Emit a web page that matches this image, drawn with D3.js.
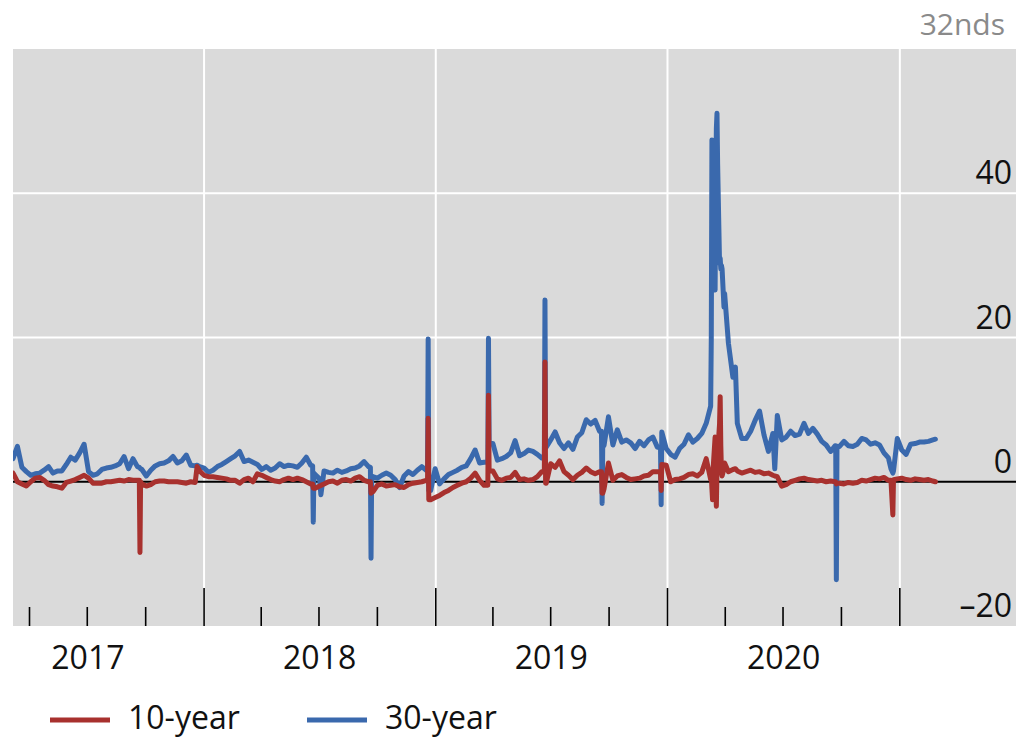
<!DOCTYPE html>
<html>
<head>
<meta charset="utf-8">
<script src="https://cdn.jsdelivr.net/npm/d3@7"></script>
<style>
  body { margin: 0; background: #fff; }
  svg { display: block; font-family: "Open Sans", "Noto Sans", sans-serif; }
</style>
</head>
<body>
<div id="chart"></div>
<script>
// observation dates (weekly, plus extra days around the spikes)
const dates = [
  // 2017
  "2017-03-06","2017-03-13","2017-03-20","2017-03-27","2017-04-03","2017-04-10","2017-04-17","2017-04-24","2017-05-01","2017-05-08",
  "2017-05-15","2017-05-22","2017-05-29","2017-06-05","2017-06-12","2017-06-19","2017-06-26","2017-07-03","2017-07-10","2017-07-17",
  "2017-07-24","2017-07-31","2017-08-07","2017-08-14","2017-08-21","2017-08-28","2017-09-04","2017-09-11","2017-09-18","2017-09-21",
  "2017-09-22","2017-09-23","2017-09-25","2017-10-02","2017-10-09","2017-10-16","2017-10-23","2017-10-30","2017-11-06","2017-11-13",
  "2017-11-20","2017-11-27","2017-12-04","2017-12-11","2017-12-18","2017-12-21","2017-12-25",
  // 2018
  "2018-01-01","2018-01-08","2018-01-15","2018-01-22","2018-01-29","2018-02-05","2018-02-12","2018-02-19","2018-02-26","2018-03-05",
  "2018-03-12","2018-03-19","2018-03-26","2018-04-02","2018-04-09","2018-04-16","2018-04-23","2018-04-30","2018-05-07","2018-05-14",
  "2018-05-21","2018-05-28","2018-06-04","2018-06-11","2018-06-18","2018-06-21","2018-06-22","2018-06-23","2018-06-25","2018-07-02",
  "2018-07-04","2018-07-09","2018-07-16","2018-07-23","2018-07-30","2018-08-06","2018-08-13","2018-08-20","2018-08-27","2018-09-03",
  "2018-09-10","2018-09-17","2018-09-20","2018-09-21","2018-09-22","2018-09-24","2018-10-01","2018-10-08","2018-10-15","2018-10-22",
  "2018-10-29","2018-11-05","2018-11-12","2018-11-19","2018-11-26","2018-12-03","2018-12-10","2018-12-17","2018-12-19","2018-12-20",
  "2018-12-21","2018-12-24","2018-12-31",
  // 2019
  "2019-01-07","2019-01-14","2019-01-21","2019-01-28","2019-02-04","2019-02-11","2019-02-18","2019-02-25","2019-03-04","2019-03-11",
  "2019-03-18","2019-03-24","2019-03-25","2019-03-26","2019-04-01","2019-04-08","2019-04-15","2019-04-22","2019-04-29","2019-05-06",
  "2019-05-13","2019-05-20","2019-05-27","2019-06-03","2019-06-10","2019-06-17","2019-06-21","2019-06-22","2019-06-23","2019-06-24",
  "2019-07-01","2019-07-08","2019-07-15","2019-07-22","2019-07-29","2019-08-05","2019-08-12","2019-08-19","2019-08-26","2019-09-02",
  "2019-09-09","2019-09-16","2019-09-19","2019-09-20","2019-09-21","2019-09-23","2019-09-30","2019-10-07","2019-10-14","2019-10-21",
  "2019-10-28","2019-11-04","2019-11-11","2019-11-18","2019-11-25","2019-12-02","2019-12-09","2019-12-16","2019-12-21","2019-12-22",
  "2019-12-23","2019-12-30",
  // 2020
  "2020-01-06","2020-01-13","2020-01-20","2020-01-27","2020-02-03","2020-02-10","2020-02-17","2020-02-24","2020-03-02","2020-03-09",
  "2020-03-10","2020-03-11","2020-03-12","2020-03-13","2020-03-16","2020-03-17","2020-03-18","2020-03-19","2020-03-20","2020-03-23",
  "2020-03-24","2020-03-25","2020-03-26","2020-03-27","2020-03-30","2020-03-31","2020-04-06","2020-04-13","2020-04-17","2020-04-20",
  "2020-04-27","2020-05-04","2020-05-11","2020-05-18","2020-05-25","2020-06-01","2020-06-08","2020-06-15","2020-06-18","2020-06-22",
  "2020-06-29","2020-07-06","2020-07-13","2020-07-20","2020-07-27","2020-08-03","2020-08-10","2020-08-17","2020-08-24","2020-08-31",
  "2020-09-07","2020-09-14","2020-09-21","2020-09-22","2020-09-23","2020-09-24","2020-09-28","2020-10-05","2020-10-12","2020-10-19",
  "2020-10-26","2020-11-02","2020-11-09","2020-11-16","2020-11-23","2020-11-30","2020-12-07","2020-12-14","2020-12-18","2020-12-21",
  "2020-12-22","2020-12-28",
  // 2021
  "2021-01-04","2021-01-11","2021-01-18","2021-01-25","2021-02-01","2021-02-08","2021-02-15","2021-02-22","2021-02-26"
];

// 10-year series, 32nds
const tenYear = [
  1.2, 0.0, -0.3, -0.6, 0.0, 0.5, 0.6, 0.2, -0.4, -0.6,
  -0.7, -0.9, -0.1, 0.1, 0.3, 0.6, 0.9, 0.5, -0.2, -0.2,
  -0.2, 0.0, 0.0, 0.1, 0.2, 0.1, 0.3, 0.2, 0.2, 0.2,
  -9.8, 0.0, -0.3, -0.6, -0.4, 0.0, 0.1, 0.1, 0.0, 0.0,
  0.0, -0.1, -0.2, 0.0, -0.1, 2.1, 1.5,

  0.9, 0.7, 0.7, 0.6, 0.5, 0.4, 0.2, 0.2, -0.2, 0.3,
  0.5, 0.0, 1.1, 0.9, 0.6, 0.3, 0.1, 0.0, 0.3, 0.5,
  0.3, 0.5, 0.3, 0.0, -0.3, -0.3, -0.9, -0.9, -0.9, -0.6,
  -0.5, -0.3, 0.0, 0.1, -0.2, 0.2, 0.3, 0.1, 0.5, 0.7,
  0.2, 0.0, 0.0, -1.6, -1.4, -1.4, -0.5, -0.3, -0.6, -0.5,
  -0.4, -0.7, -0.8, -0.4, -0.2, -0.1, 0.0, 0.2, 0.2, 8.8,
  -2.5, -2.5, -2.2,

  -1.9, -1.5, -1.2, -0.8, -0.5, -0.2, 0.0, 0.5, 1.2, 0.2,
  -0.5, -0.5, 12.0, 1.5, 1.5, 0.4, 0.2, 0.5, 0.6, 1.3,
  0.3, 0.4, 0.2, 0.3, 0.7, 1.4, 1.4, 16.6, -0.2, -0.2,
  2.5, 2.0, 2.9, 1.4, 0.9, 0.3, 0.9, 1.3, 1.9, 1.4,
  1.1, 1.4, 1.4, -1.6, -1.6, -1.0, 2.6, 0.2, 0.8, 1.0,
  0.6, 0.3, 0.4, 0.5, 0.8, 0.9, 1.4, 1.4, 1.4, -1.2,
  2.4, 2.3,

  0.0, 0.3, 0.4, 0.6, 1.0, 1.1, 0.8, 1.3, 3.2, 0.3,
  1.0, -1.0, -2.5, 2.0, 6.2, -1.5, -3.4, 2.0, 4.0, 8.0,
  11.8, 5.0, 1.5, 0.8, 1.8, 2.6, 1.4, 1.7, 1.8, 1.5,
  1.2, 1.4, 1.6, 1.3, 1.4, 1.1, 1.2, 0.9, 0.8, 0.7,
  -0.6, -0.4, 0.0, 0.2, 0.4, 0.5, 0.3, 0.2, 0.1, 0.2,
  0.0, 0.1, 0.0, 0.0, -0.3, -0.2, -0.2, -0.3, -0.1, -0.2,
  -0.1, 0.2, 0.1, 0.3, 0.5, 0.4, 0.6, 0.2, 0.2, -4.6,
  0.3, 0.4,

  0.5, 0.3, 0.2, 0.4, 0.3, 0.2, 0.3, 0.1, 0.0
];

// 30-year series, 32nds
const thirtyYear = [
  3.2, 4.9, 2.0, 1.4, 0.9, 1.1, 1.2, 1.6, 2.1, 1.2,
  1.5, 1.5, 2.4, 3.4, 3.0, 4.0, 5.2, 1.4, 0.9, 1.1,
  1.7, 1.9, 2.0, 2.2, 2.5, 3.5, 1.8, 3.2, 2.1, 2.0,
  1.9, 1.8, 1.7, 0.8, 1.6, 2.2, 2.5, 2.6, 2.9, 3.5,
  2.6, 2.9, 3.7, 2.3, 2.2, 2.3, 2.1,

  1.9, 1.3, 1.6, 2.1, 2.4, 2.8, 3.2, 3.6, 4.2, 2.8,
  3.0, 2.7, 2.4, 1.7, 2.1, 1.6, 1.9, 2.5, 2.1, 2.3,
  2.2, 2.0, 2.6, 3.4, 2.3, 2.2, -5.6, 1.2, 1.0, 0.4,
  -1.8, 1.5, 1.3, 1.2, 1.6, 1.3, 1.5, 1.8, 1.9, 2.2,
  2.8, 2.1, 2.0, -10.6, 0.8, 0.7, 0.5, 0.9, 1.2, 0.9,
  0.3, -0.8, 0.8, 1.4, 1.0, 1.6, 2.1, 1.6, 1.6, 19.8,
  -1.2, -1.2, 1.8,

  -0.3, 0.4, 1.0, 1.3, 1.6, 2.0, 2.2, 3.2, 4.4, 2.6,
  2.7, 2.7, 19.9, 5.3, 5.3, 3.0, 3.2, 3.5, 4.0, 5.7,
  3.6, 3.9, 4.4, 4.2, 3.8, 3.3, 3.3, 25.2, 4.8, 4.8,
  5.8, 6.9, 5.4, 4.6, 5.4, 4.5, 6.2, 6.8, 8.6, 8.0,
  8.5, 7.0, 7.0, -3.0, 5.0, 5.0, 9.0, 5.1, 7.2, 5.5,
  5.8, 5.4, 4.6, 5.6, 5.0, 5.8, 6.2, 4.8, 4.8, -3.2,
  6.9, 4.6,

  3.8, 3.4, 4.6, 5.2, 6.5, 5.5, 6.0, 6.7, 8.1, 10.5,
  20.0, 47.4, 38.0, 30.0, 26.6, 40.0, 49.0, 51.1, 44.0, 30.3,
  31.0, 29.5, 30.0, 29.5, 24.2, 26.1, 19.2, 14.5, 15.9, 8.1,
  6.0, 6.0, 7.0, 8.5, 9.8, 6.5, 4.2, 6.7, 1.8, 9.2,
  5.8, 6.2, 7.0, 6.4, 6.6, 8.1, 6.7, 7.4, 6.6, 5.6,
  5.1, 4.2, 5.0, 5.0, -13.6, 4.9, 4.9, 5.6, 5.0, 4.9,
  5.2, 6.0, 5.8, 5.2, 5.4, 5.1, 4.0, 3.3, 1.8, 1.2,
  1.5, 6.0,

  4.4, 3.8, 5.2, 5.3, 5.5, 5.5, 5.6, 5.8, 5.9
];

const yTicks = [-20, 0, 20, 40];
const yearLabels = ["2017", "2018", "2019", "2020"];
const seriesNames = ["10-year", "30-year"];
const unitLabel = "32nds";

const width = 1016, height = 739;
const plot = { left: 13, right: 1016, top: 49, bottom: 626 };
const colors = { red: "#a8312e", blue: "#3a69ad", bg: "#dadada" };

const parse = d3.timeParse("%Y-%m-%d");

const x = d3.scaleTime()
  .domain([parse("2017-03-06"), parse("2021-07-03")])
  .range([plot.left, plot.right]);

const y = d3.scaleLinear()
  .domain([-20, 60])
  .range([plot.bottom, plot.top]);

const rows10 = dates.map((d, i) => ({ date: parse(d), value: tenYear[i] }));
const rows30 = dates.map((d, i) => ({ date: parse(d), value: thirtyYear[i] }));

const svg = d3.select("#chart").append("svg")
  .attr("width", width)
  .attr("height", height);

svg.append("defs").append("clipPath").attr("id", "plotclip")
  .append("rect")
  .attr("x", plot.left).attr("y", plot.top)
  .attr("width", plot.right - plot.left)
  .attr("height", plot.bottom - plot.top);

// gray panel
svg.append("rect")
  .attr("x", plot.left).attr("y", plot.top)
  .attr("width", plot.right - plot.left)
  .attr("height", plot.bottom - plot.top)
  .attr("fill", colors.bg);

// horizontal white gridlines
svg.append("g").selectAll("line")
  .data(yTicks.filter(v => v > 0))
  .join("line")
  .attr("x1", plot.left).attr("x2", plot.right)
  .attr("y1", d => y(d)).attr("y2", d => y(d))
  .attr("stroke", "#fff").attr("stroke-width", 2);

// vertical white gridlines at year starts
const yearStarts = d3.timeYear.range(x.domain()[0], x.domain()[1]);
svg.append("g").selectAll("line")
  .data(yearStarts)
  .join("line")
  .attr("x1", d => x(d)).attr("x2", d => x(d))
  .attr("y1", plot.top).attr("y2", plot.bottom)
  .attr("stroke", "#fff").attr("stroke-width", 2);

// quarterly ticks inside the panel bottom (up to the last year start)
const quarters = d3.timeMonth.every(3).range(x.domain()[0], d3.timeDay.offset(yearStarts[yearStarts.length - 1], 1));
svg.append("g").selectAll("line")
  .data(quarters)
  .join("line")
  .attr("x1", d => x(d)).attr("x2", d => x(d))
  .attr("y1", d => d.getMonth() === 0 ? plot.bottom - 38 : plot.bottom - 19)
  .attr("y2", plot.bottom)
  .attr("stroke", "#000").attr("stroke-width", 1.6);

// zero line
svg.append("line")
  .attr("x1", plot.left).attr("x2", plot.right)
  .attr("y1", y(0)).attr("y2", y(0))
  .attr("stroke", "#000").attr("stroke-width", 2);

// series
const line = d3.line()
  .x(d => x(d.date))
  .y(d => y(d.value));

const series = svg.append("g").attr("clip-path", "url(#plotclip)");

series.append("path")
  .datum(rows30)
  .attr("d", line)
  .attr("fill", "none")
  .attr("stroke", colors.blue)
  .attr("stroke-width", 5)
  .attr("stroke-linejoin", "round")
  .attr("stroke-linecap", "round");

series.append("path")
  .datum(rows10)
  .attr("d", line)
  .attr("fill", "none")
  .attr("stroke", colors.red)
  .attr("stroke-width", 5)
  .attr("stroke-linejoin", "round")
  .attr("stroke-linecap", "round");

// y labels, right side above gridlines
svg.append("g").selectAll("text")
  .data(yTicks)
  .join("text")
  .attr("x", 1012)
  .attr("y", d => y(d) - 9)
  .attr("text-anchor", "end")
  .attr("font-size", 32)
  .attr("fill", "#111")
  .text(d => d < 0 ? "\u2013" + Math.abs(d) : d);

// year labels centred on each year
svg.append("g").selectAll("text")
  .data(yearLabels)
  .join("text")
  .attr("x", d => x(new Date(+d, 6, 2)))
  .attr("y", 669)
  .attr("text-anchor", "middle")
  .attr("font-size", 32)
  .attr("fill", "#111")
  .text(d => d);

// unit label
svg.append("text")
  .attr("x", 1005).attr("y", 35)
  .attr("text-anchor", "end")
  .attr("font-size", 30)
  .attr("fill", "#8a8a8a")
  .text(unitLabel);

// legend
const legend = svg.append("g");
const legendItems = [
  { name: seriesNames[0], color: colors.red, x: 50 },
  { name: seriesNames[1], color: colors.blue, x: 307 }
];
legendItems.forEach(item => {
  legend.append("line")
    .attr("x1", item.x).attr("x2", item.x + 60)
    .attr("y1", 720).attr("y2", 720)
    .attr("stroke", item.color).attr("stroke-width", 5);
  legend.append("text")
    .attr("x", item.x + 78).attr("y", 729)
    .attr("font-size", 32)
    .attr("fill", "#111")
    .text(item.name);
});
</script>
</body>
</html>
